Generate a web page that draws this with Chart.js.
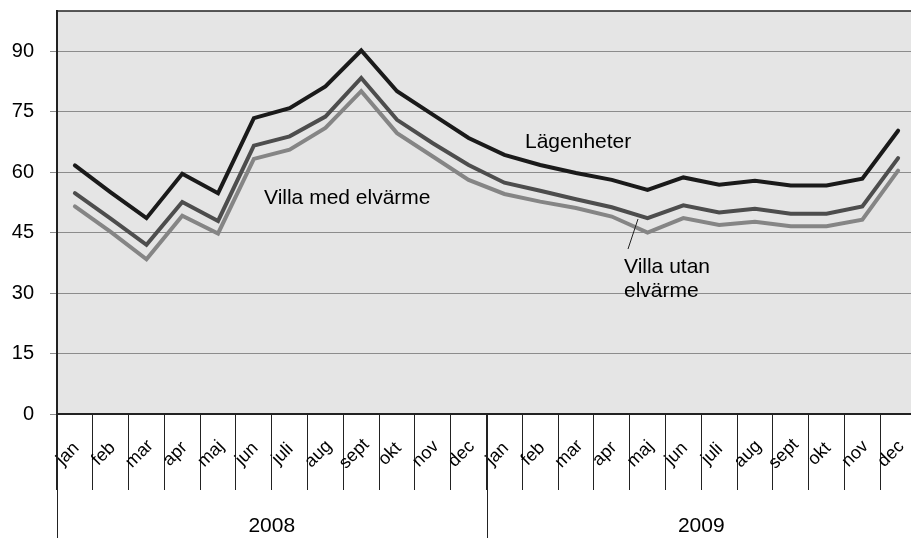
<!DOCTYPE html>
<html>
<head>
<meta charset="utf-8">
<script src="https://cdn.jsdelivr.net/npm/chart.js@4.4.0/dist/chart.umd.min.js"></script>
<style>
  html, body { margin: 0; padding: 0; background: #fff; overflow: hidden; }
  #wrap { width: 916px; height: 538px; }
</style>
</head>
<body>
<div id="wrap"><canvas id="chart" width="916" height="538"></canvas></div>
<script>
// månader och år
const monthNames = ['jan', 'feb', 'mar', 'apr', 'maj', 'jun', 'juli', 'aug', 'sept', 'okt', 'nov', 'dec'];
const years = ['2008', '2009'];
const labels = years.flatMap(() => monthNames);

// serier
const lagenheter = [61.7, 55.0, 48.6, 59.6, 54.8, 73.4, 75.9, 81.3, 90.2, 80.1, 74.3, 68.5,
                    64.3, 61.8, 59.8, 58.1, 55.6, 58.7, 56.9, 57.9, 56.7, 56.7, 58.4, 70.3];
const villaMed   = [54.8, 48.5, 42.0, 52.6, 47.9, 66.6, 68.9, 73.8, 83.4, 73.0, 67.2, 61.8,
                    57.4, 55.4, 53.3, 51.3, 48.6, 51.8, 50.0, 50.9, 49.7, 49.7, 51.5, 63.5];
const villaUtan  = [51.5, 45.2, 38.4, 49.2, 44.8, 63.3, 65.6, 71.0, 80.1, 69.7, 63.9, 58.1,
                    54.6, 52.7, 51.1, 49.0, 45.0, 48.6, 46.9, 47.7, 46.6, 46.6, 48.2, 60.4];
const yTicks = [0, 15, 30, 45, 60, 75, 90];

Chart.defaults.font.family = 'Arial, "Liberation Sans", sans-serif';
Chart.defaults.color = '#000';

const FONT = '21px Arial, "Liberation Sans", sans-serif';

const decorations = {
  id: 'decorations',
  beforeDraw(chart) {
    const { ctx, chartArea: a } = chart;
    ctx.save();
    ctx.fillStyle = '#e5e5e5';
    ctx.fillRect(a.left, a.top, a.right - a.left, a.bottom - a.top);
    ctx.restore();
  },
  afterDraw(chart) {
    const { ctx, chartArea: a } = chart;
    const xs = chart.scales.x;
    ctx.save();

    // top border
    ctx.strokeStyle = '#222';
    ctx.lineWidth = 1.5;
    ctx.beginPath();
    ctx.moveTo(a.left, a.top);
    ctx.lineTo(a.right, a.top);
    ctx.stroke();

    // rotated month labels
    ctx.fillStyle = '#000';
    ctx.font = '18px Arial, "Liberation Sans", sans-serif';
    ctx.textAlign = 'center';
    ctx.textBaseline = 'middle';
    labels.forEach((m, i) => {
      const x = xs.getPixelForValue(i);
      ctx.save();
      ctx.translate(x - 7, a.bottom + 40);
      ctx.rotate(-Math.PI / 4);
      ctx.fillText(m, 0, 0);
      ctx.restore();
    });

    // year groups
    const h = chart.height;
    ctx.strokeStyle = '#222';
    ctx.lineWidth = 1;
    ctx.font = FONT;
    years.forEach((y, k) => {
      const first = k * 12, last = first + 11;
      const step = xs.getPixelForValue(1) - xs.getPixelForValue(0);
      const x0 = xs.getPixelForValue(first) - step / 2;
      const x1 = xs.getPixelForValue(last) + step / 2;
      ctx.beginPath();
      ctx.moveTo(Math.round(x0) + 0.5, a.bottom);
      ctx.lineTo(Math.round(x0) + 0.5, h);
      ctx.stroke();
      ctx.fillText(y, (x0 + x1) / 2, a.bottom + 112);
    });

    // series annotations
    ctx.textAlign = 'left';
    ctx.fillText('Lägenheter', 525, 142);
    ctx.fillText('Villa med elvärme', 264, 198);
    ctx.fillText('Villa utan', 624, 267);
    ctx.fillText('elvärme', 624, 291);
    ctx.beginPath();
    ctx.moveTo(628, 249);
    ctx.lineTo(638, 219);
    ctx.stroke();

    ctx.restore();
  }
};

const lineStyle = {
  borderWidth: 4,
  pointRadius: 0,
  tension: 0,
  borderJoinStyle: 'miter',
  borderCapStyle: 'round',
  fill: false
};

new Chart(document.getElementById('chart'), {
  type: 'line',
  data: {
    labels: labels,
    datasets: [
      { label: 'Villa utan elvärme', data: villaUtan, borderColor: '#858585', ...lineStyle },
      { label: 'Villa med elvärme', data: villaMed, borderColor: '#4d4d4d', ...lineStyle },
      { label: 'Lägenheter', data: lagenheter, borderColor: '#1a1a1a', ...lineStyle }
    ]
  },
  options: {
    responsive: false,
    animation: false,
    layout: { padding: { top: 11, left: 0, right: 0, bottom: 0 } },
    plugins: {
      legend: { display: false },
      tooltip: { enabled: false }
    },
    scales: {
      x: {
        offset: true,
        ticks: { display: false },
        grid: { offset: true, drawOnChartArea: false, tickLength: 76, color: '#222', lineWidth: 1 },
        border: { color: '#222', width: 2 },
        afterFit: s => { s.height = 124; s.paddingLeft = 0; s.paddingRight = 0; }
      },
      y: {
        min: 0,
        max: 100,
        afterBuildTicks: s => { s.ticks = yTicks.map(v => ({ value: v })); },
        ticks: { font: { size: 20 }, padding: 16, color: '#000' },
        grid: { color: '#8c8c8c', tickColor: '#8c8c8c', tickLength: 7, lineWidth: 1 },
        border: { color: '#222', width: 2 },
        afterFit: s => { s.width = 57; s.paddingTop = 0; s.paddingBottom = 0; }
      }
    }
  },
  plugins: [decorations]
});
</script>
</body>
</html>
